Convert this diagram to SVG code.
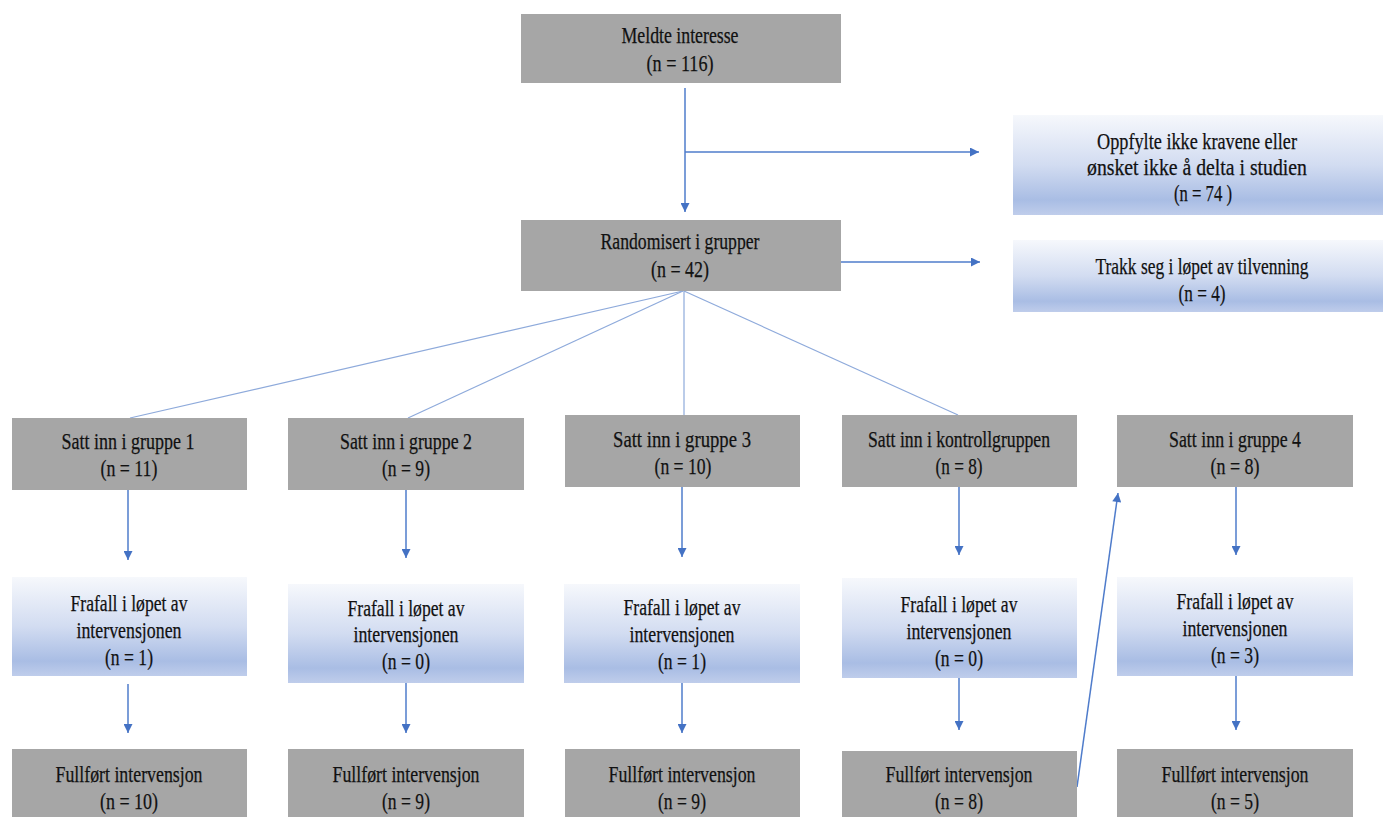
<svg xmlns="http://www.w3.org/2000/svg" width="1383" height="817" viewBox="0 0 1383 817" font-family="Liberation Serif, DejaVu Serif, serif">
<defs>
<linearGradient id="blueGrad" x1="0" y1="0" x2="0" y2="1">
<stop offset="0" stop-color="#f6f8fc"/>
<stop offset="0.5" stop-color="#d2dcf1"/>
<stop offset="0.85" stop-color="#a9bde4"/>
<stop offset="1" stop-color="#bfcdeb"/>
</linearGradient>
<marker id="arrow" viewBox="0 0 10 10" refX="10" refY="5" markerWidth="10" markerHeight="9" markerUnits="userSpaceOnUse" orient="auto">
<path d="M0,0 L10,5 L0,10 Z" fill="#4472c4"/>
</marker>
</defs>
<style>
.gray{fill:#a6a6a6}
.blue{fill:url(#blueGrad)}
text{font-family:'Liberation Serif','DejaVu Serif',serif;font-size:24px;fill:#111111;stroke:#111111;stroke-width:0.25;text-anchor:middle}
.arr{stroke:#4f7ccb;stroke-width:1.5;fill:none;marker-end:url(#arrow)}
.fan{stroke:#8eaadb;stroke-width:1.2;fill:none}
</style>
<rect width="1383" height="817" fill="#ffffff"/>

<g id="connectors">
<line class="arr" x1="685" y1="88" x2="685" y2="212"/>
<line class="arr" x1="685" y1="152" x2="979" y2="152"/>
<line class="arr" x1="841" y1="262" x2="980" y2="262"/>
<line class="fan" x1="683" y1="291" x2="130" y2="418"/>
<line class="fan" x1="683" y1="291" x2="408" y2="418"/>
<line class="fan" x1="684" y1="291" x2="684" y2="415"/>
<line class="fan" x1="684" y1="291" x2="958" y2="415"/>
<line class="arr" x1="128" y1="490" x2="128" y2="560"/>
<line class="arr" x1="406" y1="490" x2="406" y2="558"/>
<line class="arr" x1="682" y1="487" x2="682" y2="557"/>
<line class="arr" x1="959" y1="487" x2="959" y2="555"/>
<line class="arr" x1="1236" y1="487" x2="1236" y2="555"/>
<line class="arr" x1="128" y1="684" x2="128" y2="733"/>
<line class="arr" x1="406" y1="683" x2="406" y2="733"/>
<line class="arr" x1="682" y1="683" x2="682" y2="733"/>
<line class="arr" x1="959" y1="678" x2="959" y2="730"/>
<line class="arr" x1="1236" y1="676" x2="1236" y2="730"/>
<line class="arr" x1="1077" y1="787" x2="1118" y2="493"/>
</g>

<g id="meldte">
<rect class="gray" x="521" y="14" width="320" height="69"/>
<text x="680" y="43" textLength="117" lengthAdjust="spacingAndGlyphs">Meldte interesse</text>
<text x="680" y="71" textLength="67" lengthAdjust="spacingAndGlyphs">(n = 116)</text>
</g>

<g id="randomisert">
<rect class="gray" x="521" y="220" width="320" height="71"/>
<text x="680" y="249" textLength="159" lengthAdjust="spacingAndGlyphs">Randomisert i grupper</text>
<text x="680" y="277" textLength="58" lengthAdjust="spacingAndGlyphs">(n = 42)</text>
</g>

<g id="ekskludert">
<rect class="blue" x="1013" y="115" width="370" height="100"/>
<text x="1197" y="149" textLength="200" lengthAdjust="spacingAndGlyphs">Oppfylte ikke kravene eller</text>
<text x="1197" y="175" textLength="220" lengthAdjust="spacingAndGlyphs">ønsket ikke å delta i studien</text>
<text x="1203" y="201" textLength="58" lengthAdjust="spacingAndGlyphs">(n = 74 )</text>
</g>

<g id="trakk">
<rect class="blue" x="1013" y="240" width="370" height="72"/>
<text x="1202" y="274" textLength="213" lengthAdjust="spacingAndGlyphs">Trakk seg i løpet av tilvenning</text>
<text x="1202" y="301" textLength="47" lengthAdjust="spacingAndGlyphs">(n = 4)</text>
</g>

<g id="gruppe1">
<rect class="gray" x="12" y="418" width="235" height="72"/>
<text x="128" y="449" textLength="133" lengthAdjust="spacingAndGlyphs">Satt inn i  gruppe 1</text>
<text x="129" y="476" textLength="57" lengthAdjust="spacingAndGlyphs">(n = 11)</text>
</g>

<g id="gruppe2">
<rect class="gray" x="288" y="418" width="236" height="72"/>
<text x="406" y="449" textLength="132" lengthAdjust="spacingAndGlyphs">Satt inn i gruppe 2</text>
<text x="406" y="476" textLength="48" lengthAdjust="spacingAndGlyphs">(n = 9)</text>
</g>

<g id="gruppe3">
<rect class="gray" x="565" y="415" width="235" height="72"/>
<text x="682" y="447" textLength="138" lengthAdjust="spacingAndGlyphs">Satt inn i gruppe 3</text>
<text x="683" y="474" textLength="57" lengthAdjust="spacingAndGlyphs">(n = 10)</text>
</g>

<g id="kontroll">
<rect class="gray" x="842" y="415" width="235" height="72"/>
<text x="959" y="447" textLength="182" lengthAdjust="spacingAndGlyphs">Satt inn i kontrollgruppen</text>
<text x="959" y="474" textLength="47" lengthAdjust="spacingAndGlyphs">(n = 8)</text>
</g>

<g id="gruppe4">
<rect class="gray" x="1117" y="415" width="236" height="72"/>
<text x="1235" y="447" textLength="132" lengthAdjust="spacingAndGlyphs">Satt inn i gruppe 4</text>
<text x="1235" y="474" textLength="49" lengthAdjust="spacingAndGlyphs">(n = 8)</text>
</g>

<g id="frafall1">
<rect class="blue" x="12" y="577" width="235" height="99"/>
<text x="129" y="611" textLength="117" lengthAdjust="spacingAndGlyphs">Frafall i løpet av</text>
<text x="129" y="638" textLength="105" lengthAdjust="spacingAndGlyphs">intervensjonen</text>
<text x="129" y="665" textLength="48" lengthAdjust="spacingAndGlyphs">(n = 1)</text>
</g>

<g id="frafall2">
<rect class="blue" x="288" y="584" width="236" height="99"/>
<text x="406" y="616" textLength="117" lengthAdjust="spacingAndGlyphs">Frafall i løpet av</text>
<text x="406" y="642" textLength="105" lengthAdjust="spacingAndGlyphs">intervensjonen</text>
<text x="406" y="669" textLength="48" lengthAdjust="spacingAndGlyphs">(n = 0)</text>
</g>

<g id="frafall3">
<rect class="blue" x="564" y="584" width="236" height="99"/>
<text x="682" y="615" textLength="117" lengthAdjust="spacingAndGlyphs">Frafall i løpet av</text>
<text x="682" y="642" textLength="105" lengthAdjust="spacingAndGlyphs">intervensjonen</text>
<text x="682" y="669" textLength="48" lengthAdjust="spacingAndGlyphs">(n = 1)</text>
</g>

<g id="frafallK">
<rect class="blue" x="842" y="578" width="235" height="100"/>
<text x="959" y="612" textLength="117" lengthAdjust="spacingAndGlyphs">Frafall i løpet av</text>
<text x="959" y="639" textLength="105" lengthAdjust="spacingAndGlyphs">intervensjonen</text>
<text x="959" y="666" textLength="48" lengthAdjust="spacingAndGlyphs">(n = 0)</text>
</g>

<g id="frafall4">
<rect class="blue" x="1117" y="577" width="236" height="99"/>
<text x="1235" y="609" textLength="117" lengthAdjust="spacingAndGlyphs">Frafall i løpet av</text>
<text x="1235" y="636" textLength="105" lengthAdjust="spacingAndGlyphs">intervensjonen</text>
<text x="1235" y="663" textLength="48" lengthAdjust="spacingAndGlyphs">(n = 3)</text>
</g>

<g id="fullfort1">
<rect class="gray" x="12" y="749" width="235" height="68"/>
<text x="129" y="782" textLength="147" lengthAdjust="spacingAndGlyphs">Fullført intervensjon</text>
<text x="129" y="809" textLength="58" lengthAdjust="spacingAndGlyphs">(n = 10)</text>
</g>

<g id="fullfort2">
<rect class="gray" x="288" y="749" width="236" height="68"/>
<text x="406" y="782" textLength="147" lengthAdjust="spacingAndGlyphs">Fullført intervensjon</text>
<text x="406" y="809" textLength="48" lengthAdjust="spacingAndGlyphs">(n = 9)</text>
</g>

<g id="fullfort3">
<rect class="gray" x="565" y="749" width="235" height="68"/>
<text x="682" y="782" textLength="147" lengthAdjust="spacingAndGlyphs">Fullført intervensjon</text>
<text x="682" y="809" textLength="48" lengthAdjust="spacingAndGlyphs">(n = 9)</text>
</g>

<g id="fullfortK">
<rect class="gray" x="842" y="751" width="235" height="66"/>
<text x="959" y="782" textLength="147" lengthAdjust="spacingAndGlyphs">Fullført intervensjon</text>
<text x="959" y="809" textLength="48" lengthAdjust="spacingAndGlyphs">(n = 8)</text>
</g>

<g id="fullfort4">
<rect class="gray" x="1117" y="749" width="236" height="68"/>
<text x="1235" y="782" textLength="147" lengthAdjust="spacingAndGlyphs">Fullført intervensjon</text>
<text x="1235" y="809" textLength="48" lengthAdjust="spacingAndGlyphs">(n = 5)</text>
</g>
</svg>
